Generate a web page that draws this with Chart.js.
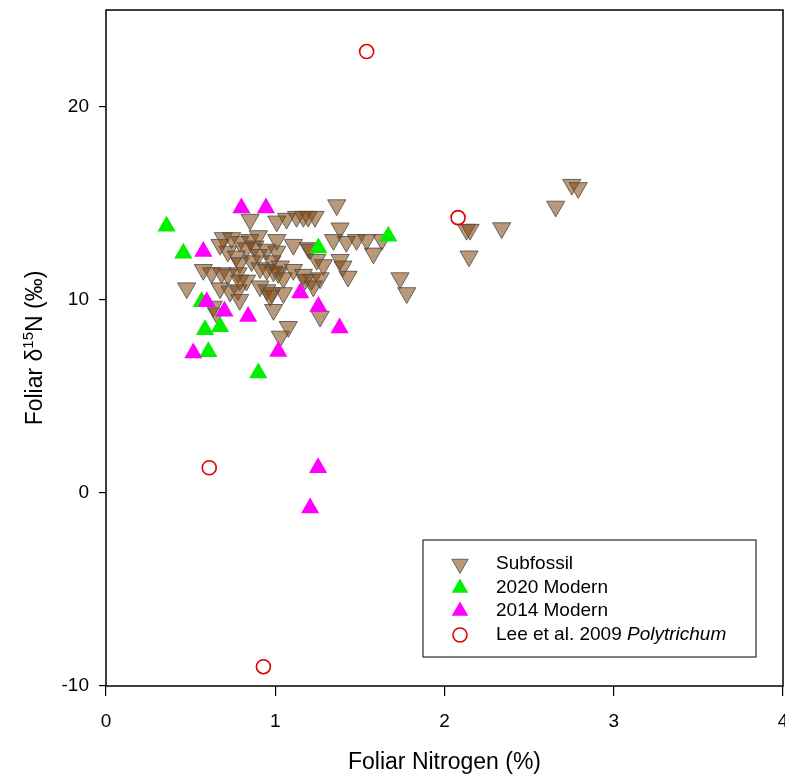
<!DOCTYPE html>
<html>
<head>
<meta charset="utf-8">
<script src="https://cdn.jsdelivr.net/npm/chart.js@4.4.1/dist/chart.umd.min.js"></script>
<style>
  html, body { margin: 0; padding: 0; background: #fff; }
  #wrap { width: 785px; height: 778px; }
</style>
</head>
<body>
<div id="wrap"><canvas id="chart" width="785" height="778"></canvas></div>
<script>
// axis ticks
const xTicks = [0, 1, 2, 3, 4];
const yTicks = [-10, 0, 10, 20];

// Subfossil (foliar N %, d15N permil)
const subfossilN = [
  1.363, 0.851, 1.009, 1.067, 1.126, 1.166, 1.195, 1.235, 1.383, 1.344,
  1.42, 1.48, 0.693, 0.742, 0.79, 0.85, 0.90, 1.009, 1.107, 1.196,
  0.674, 0.83, 0.88, 0.95, 1.009, 0.72, 0.77, 0.90, 0.98, 1.03,
  0.79, 0.86, 1.245, 1.284, 1.383, 1.40, 1.43, 0.575, 0.624, 0.683,
  0.72, 0.78, 0.83, 0.79, 0.91, 0.95, 0.99, 1.018, 1.048, 1.107,
  1.166, 1.176, 1.215, 1.225, 0.477, 0.674, 0.733, 0.78, 0.79, 0.91,
  0.95, 0.98, 1.048, 0.99, 0.634, 0.654, 1.077, 1.03, 1.265, 1.54,
  1.58, 1.63, 1.737, 1.777, 1.265, 0.97, 2.752, 2.79, 2.657, 2.338,
  2.151, 2.13, 2.145, 1.206
];
const subfossilD15N = [
  14.9, 14.15, 14.06, 14.2, 14.3, 14.3, 14.3, 14.3, 13.7, 13.1,
  13.0, 13.1, 13.2, 13.2, 13.0, 13.1, 13.3, 13.1, 12.85, 12.68,
  12.85, 12.68, 12.77, 12.6, 12.5, 12.5, 12.25, 12.33, 12.0, 11.73,
  11.9, 12.0, 12.07, 11.8, 12.07, 11.73, 11.2, 11.55, 11.38, 11.38,
  11.3, 11.38, 11.0, 11.0, 11.64, 11.55, 11.47, 11.38, 11.12, 11.55,
  11.3, 11.04, 11.04, 10.7, 10.6, 10.6, 10.43, 10.5, 10.0, 10.7,
  10.5, 10.35, 10.35, 9.48, 9.65, 9.3, 8.6, 8.1, 9.13, 13.1,
  12.4, 13.1, 11.12, 10.35, 11.12, 10.2, 15.96, 15.79, 14.83, 13.71,
  13.63, 13.63, 12.25, 12.6
];

// 2020 Modern
const modern2020N    = [0.358, 0.457, 1.255, 1.668, 0.565, 0.585, 0.674, 0.605, 0.90];
const modern2020D15N = [13.8, 12.4, 12.68, 13.28, 9.9, 8.45, 8.6, 7.3, 6.2];

// 2014 Modern
const modern2014N    = [0.80, 0.945, 0.575, 0.595, 0.70, 0.84, 1.147, 1.255, 1.38, 0.516, 1.018, 1.253, 1.206];
const modern2014D15N = [14.75, 14.75, 12.5, 9.9, 9.4, 9.13, 10.35, 9.65, 8.53, 7.24, 7.32, 1.3, -0.78];

// Lee et al. 2009 Polytrichum
const leeN    = [1.54, 2.08, 0.61, 0.93];
const leeD15N = [22.85, 14.25, 1.3, -9.0];

const FONT = "'Liberation Sans', Arial, sans-serif";
const pts = (xs, ys) => xs.map((x, i) => ({ x, y: ys[i] }));

const datasets = [
  {
    label: 'Subfossil',
    data: pts(subfossilN, subfossilD15N),
    pointStyle: 'triangle',
    rotation: 180,
    pointRadius: 10.5,
    backgroundColor: 'rgba(130,70,10,0.55)',
    borderColor: 'rgba(80,80,80,0.85)',
    borderWidth: 1,
    order: 4
  },
  {
    label: '2020 Modern',
    data: pts(modern2020N, modern2020D15N),
    pointStyle: 'triangle',
    pointRadius: 10.5,
    backgroundColor: '#00f000',
    borderColor: '#00f000',
    borderWidth: 0,
    order: 3
  },
  {
    label: '2014 Modern',
    data: pts(modern2014N, modern2014D15N),
    pointStyle: 'triangle',
    pointRadius: 10.5,
    backgroundColor: '#ff00ff',
    borderColor: '#ff00ff',
    borderWidth: 0,
    order: 2
  },
  {
    label: 'Lee et al. 2009 Polytrichum',
    data: pts(leeN, leeD15N),
    pointStyle: 'circle',
    pointRadius: 7,
    backgroundColor: 'rgba(0,0,0,0)',
    borderColor: '#e00000',
    borderWidth: 1.6,
    order: 1
  }
];

const legendRows = [564, 588, 611, 635];

// frame, axis titles and the legend box
const decor = {
  id: 'decor',
  afterDraw(chart) {
    const { ctx, chartArea: a } = chart;
    ctx.save();
    ctx.strokeStyle = '#000';
    ctx.lineWidth = 1.5;
    ctx.strokeRect(a.left, a.top, a.right - a.left, a.bottom - a.top);

    ctx.fillStyle = '#000';
    ctx.textBaseline = 'middle';
    // x title
    ctx.font = `23px ${FONT}`;
    ctx.textAlign = 'center';
    ctx.fillText('Foliar Nitrogen (%)', (a.left + a.right) / 2, 763);

    // y title with superscript
    ctx.translate(36, (a.top + a.bottom) / 2);
    ctx.rotate(-Math.PI / 2);
    const big = `23px ${FONT}`, small = `15px ${FONT}`;
    ctx.font = big;
    const w1 = ctx.measureText('Foliar \u03B4').width;
    const w3 = ctx.measureText('N (\u2030)').width;
    ctx.font = small;
    const w2 = ctx.measureText('15').width;
    let x = -(w1 + w2 + w3) / 2;
    ctx.textAlign = 'left';
    ctx.font = big; ctx.fillText('Foliar \u03B4', x, 0); x += w1;
    ctx.font = small; ctx.fillText('15', x, -7); x += w2;
    ctx.font = big; ctx.fillText('N (\u2030)', x, 0);
    ctx.restore();

    // legend box
    ctx.save();
    ctx.strokeStyle = '#000';
    ctx.lineWidth = 1;
    ctx.strokeRect(423, 540, 333, 117);

    chart.data.datasets.forEach((ds, i) => {
      ctx.save();
      ctx.fillStyle = ds.backgroundColor;
      ctx.strokeStyle = ds.borderColor;
      ctx.lineWidth = ds.borderWidth;
      Chart.helpers.drawPoint(ctx, {
        pointStyle: ds.pointStyle,
        rotation: ds.rotation || 0,
        radius: ds.pointStyle === 'circle' ? 7 : 9.5,
        borderWidth: ds.borderWidth
      }, 460, legendRows[i]);
      ctx.restore();
    });

    const tx = 496;
    ctx.fillStyle = '#000';
    ctx.textBaseline = 'middle';
    ctx.textAlign = 'left';
    ctx.font = `19px ${FONT}`;
    ctx.fillText('Subfossil', tx, legendRows[0]);
    ctx.fillText('2020 Modern', tx, legendRows[1]);
    ctx.fillText('2014 Modern', tx, legendRows[2]);
    const pre = 'Lee et al. 2009 ';
    ctx.fillText(pre, tx, legendRows[3]);
    const pw = ctx.measureText(pre).width;
    ctx.font = `italic 19px ${FONT}`;
    ctx.fillText('Polytrichum', tx + pw, legendRows[3]);
    ctx.restore();
  }
};

const noPad = s => { s.paddingLeft = 0; s.paddingRight = 0; s.paddingTop = 0; s.paddingBottom = 0; };

new Chart(document.getElementById('chart'), {
  type: 'scatter',
  data: { datasets },
  options: {
    responsive: false,
    animation: false,
    devicePixelRatio: 1,
    layout: { autoPadding: false, padding: { top: 10, right: 2, left: 0, bottom: 0 } },
    plugins: { legend: { display: false }, tooltip: { enabled: false } },
    scales: {
      x: {
        type: 'linear', min: 0, max: 4,
        afterBuildTicks: s => { s.ticks = xTicks.map(v => ({ value: v })); },
        afterFit: s => { s.height = 92; noPad(s); },
        border: { display: false },
        grid: { drawOnChartArea: false, drawTicks: true, tickLength: 10, color: '#000', lineWidth: 1.2 },
        ticks: { color: '#000', padding: 14, maxRotation: 0, font: { family: FONT, size: 19 } }
      },
      y: {
        type: 'linear', min: -10, max: 25,
        afterBuildTicks: s => { s.ticks = yTicks.map(v => ({ value: v })); },
        afterFit: s => { s.width = 106; noPad(s); },
        border: { display: false },
        grid: { drawOnChartArea: false, drawTicks: true, tickLength: 7, color: '#000', lineWidth: 1.2 },
        ticks: { color: '#000', padding: 10, font: { family: FONT, size: 19 } }
      }
    }
  },
  plugins: [decor]
});
</script>
</body>
</html>
